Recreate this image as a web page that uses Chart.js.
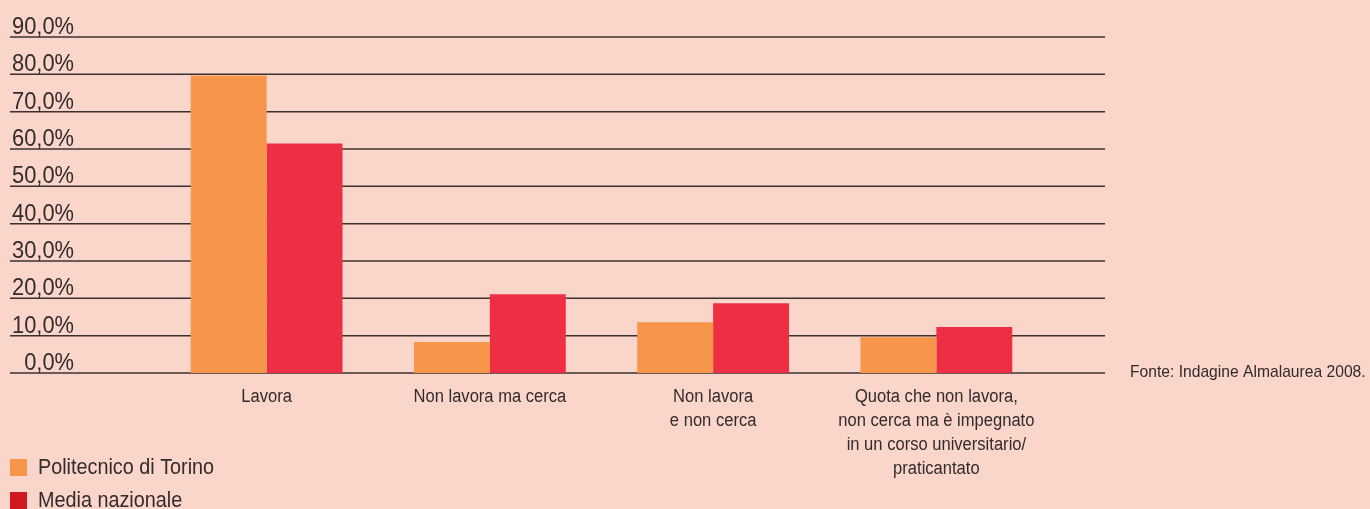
<!DOCTYPE html>
<html>
<head>
<meta charset="utf-8">
<script src="https://cdn.jsdelivr.net/npm/chart.js@4.4.1/dist/chart.umd.min.js"></script>
<style>
  html, body { margin: 0; padding: 0; background: #f9d5ca; }
</style>
</head>
<body>
<canvas id="chart" width="1370" height="509"></canvas>
<script>
const categories = [
  ["Lavora"],
  ["Non lavora ma cerca"],
  ["Non lavora", "e non cerca"],
  ["Quota che non lavora,", "non cerca ma è impegnato", "in un corso universitario/", "praticantato"]
];
const politecnico = [79.7, 8.3, 13.6, 9.6];
const mediaNazionale = [61.5, 21.1, 18.7, 12.3];
const yTicks = [0, 10, 20, 30, 40, 50, 60, 70, 80, 90];
const swatches = ['#f7964a', '#d1181f'];
const fonte = 'Fonte: Indagine Almalaurea 2008.';

const FONT = '"Liberation Sans", Arial, sans-serif';
const TEXT = '#332b2c';

// condensed look: squeeze a normal sans horizontally
function squeezed(ctx, text, x, y, sx, align) {
  ctx.save();
  ctx.translate(x, y);
  ctx.scale(sx, 1);
  ctx.textAlign = align;
  ctx.fillText(text, 0, 0);
  ctx.restore();
}

const decor = {
  id: 'decor',
  beforeDatasetsDraw(chart) {
    const ctx = chart.ctx, y = chart.scales.y;
    ctx.save();
    ctx.strokeStyle = '#3a3132';
    ctx.lineWidth = 1.5;
    ctx.fillStyle = TEXT;
    ctx.font = '23px ' + FONT;
    ctx.textBaseline = 'alphabetic';
    yTicks.forEach(v => {
      const py = y.getPixelForValue(v);
      ctx.beginPath();
      ctx.moveTo(10, py);
      ctx.lineTo(1105, py);
      ctx.stroke();
      squeezed(ctx, v.toFixed(1).replace('.', ',') + '%', 74, py - 3, 0.95, 'right');
    });
    ctx.restore();
  },
  afterDraw(chart) {
    const ctx = chart.ctx, x = chart.scales.x;
    ctx.save();
    ctx.fillStyle = TEXT;
    ctx.textBaseline = 'middle';
    ctx.font = '18px ' + FONT;
    categories.forEach((lines, i) => {
      const px = x.getPixelForValue(i);
      lines.forEach((t, j) => squeezed(ctx, t, px, 397 + j * 24, 0.92, 'center'));
    });
    // legend
    ctx.font = '22px ' + FONT;
    chart.data.datasets.forEach((ds, i) => {
      const top = 459 + i * 33;
      ctx.fillStyle = swatches[i];
      ctx.fillRect(10, top, 17, 17);
      ctx.fillStyle = TEXT;
      squeezed(ctx, ds.label, 38, top + 9, 0.9, 'left');
    });
    // source note
    ctx.font = '17px ' + FONT;
    squeezed(ctx, fonte, 1130, 372, 0.92, 'left');
    ctx.restore();
  }
};

new Chart(document.getElementById('chart'), {
  type: 'bar',
  data: {
    labels: categories.map(c => c.join(' ')),
    datasets: [
      { label: 'Politecnico di Torino', data: politecnico, backgroundColor: '#f7964a' },
      { label: 'Media nazionale', data: mediaNazionale, backgroundColor: '#ee2e43' }
    ]
  },
  options: {
    responsive: false,
    animation: false,
    layout: { padding: { left: 155, right: 322, top: 37, bottom: 136 } },
    datasets: { bar: { categoryPercentage: 0.68, barPercentage: 1.0 } },
    scales: {
      x: { display: false },
      y: { display: false, min: 0, max: 90 }
    },
    plugins: { legend: { display: false }, tooltip: { enabled: false } }
  },
  plugins: [decor]
});
</script>
</body>
</html>
